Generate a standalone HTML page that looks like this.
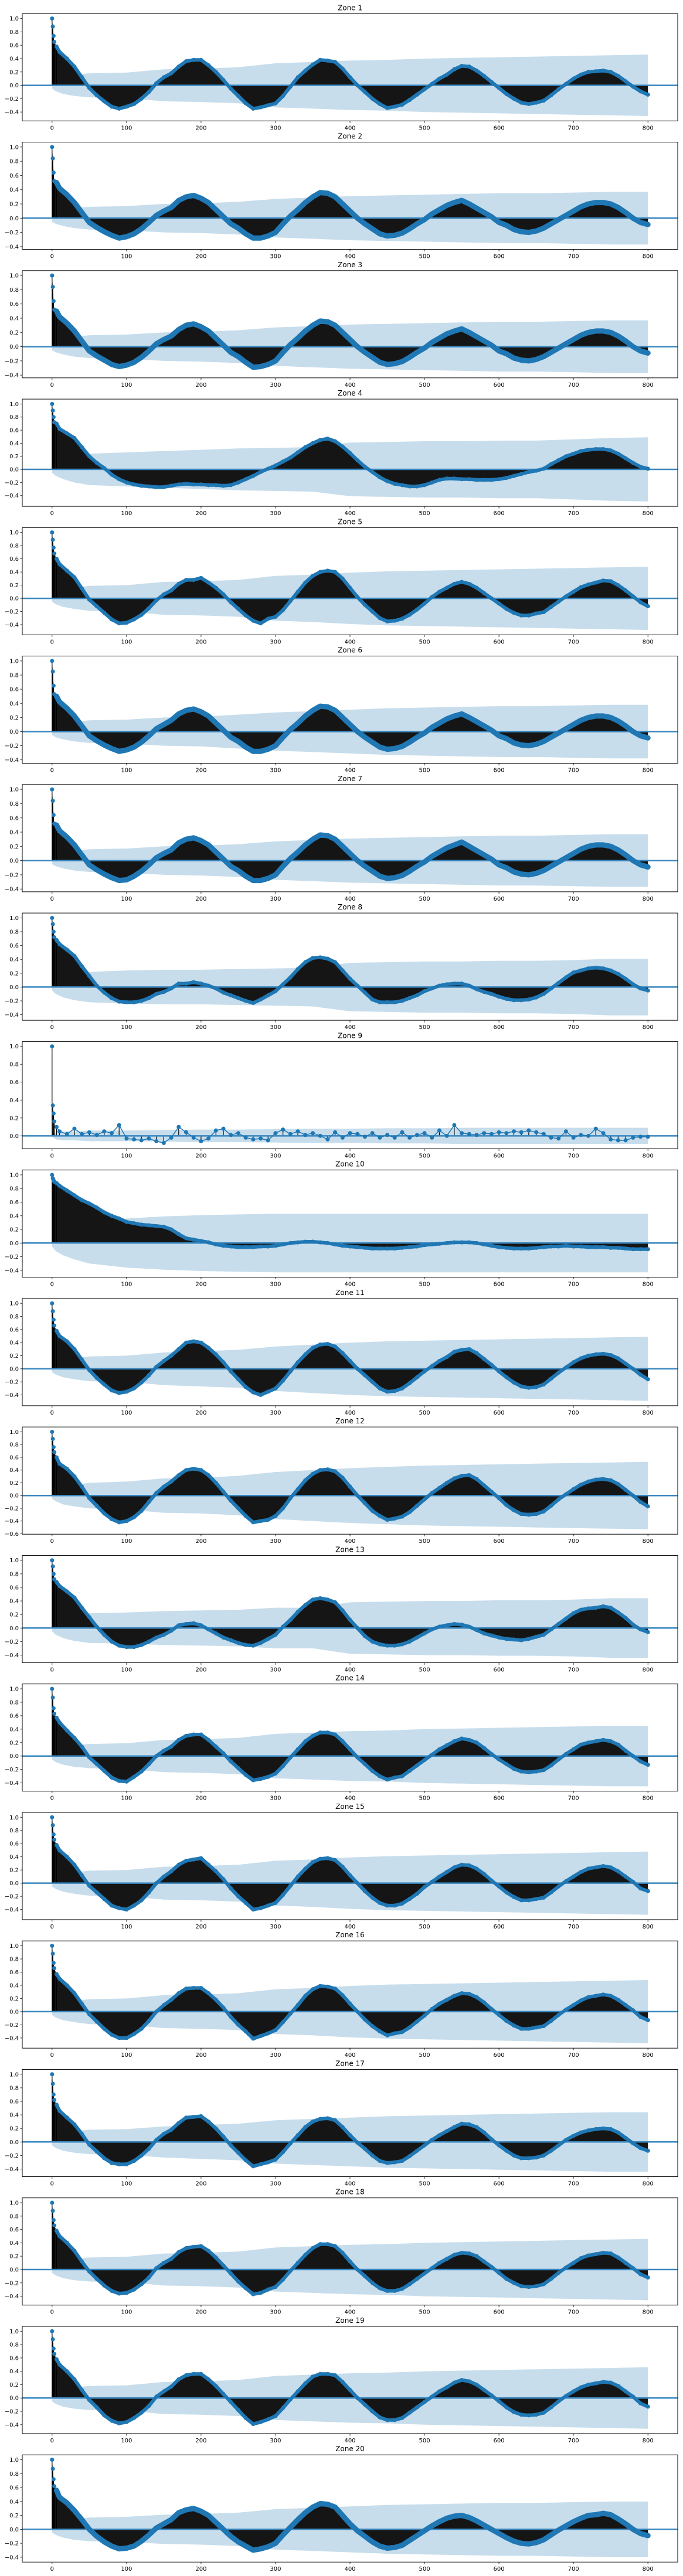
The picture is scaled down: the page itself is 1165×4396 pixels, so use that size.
<!DOCTYPE html>
<html><head><meta charset="utf-8"><style>
html,body{margin:0;padding:0;background:#fff;}
svg{display:block;}
text{font-family:"DejaVu Sans","Liberation Sans",sans-serif;}
</style></head>
<body>
<svg id="chart" xmlns="http://www.w3.org/2000/svg" width="1165" height="4396" viewBox="0 0 1165 4396"></svg>
<script>
const lags=[0,1,2,3,6,10,20,30,40,50,60,70,80,90,100,110,120,130,140,150,160,170,180,190,200,210,220,230,240,250,260,270,280,290,300,310,320,330,340,350,360,370,380,390,400,410,420,430,440,450,460,470,480,490,500,510,520,530,540,550,560,570,580,590,600,610,620,630,640,650,660,670,680,690,700,710,720,730,740,750,760,770,780,790,800];
const confLags=[0,5,15,30,50,100,150,200,250,300,350,400,450,500,550,600,650,700,750,800];
const zoneNames=["Zone 1","Zone 2","Zone 3","Zone 4","Zone 5","Zone 6","Zone 7","Zone 8","Zone 9","Zone 10","Zone 11","Zone 12","Zone 13","Zone 14","Zone 15","Zone 16","Zone 17","Zone 18","Zone 19","Zone 20"];
const xTicks=[0,100,200,300,400,500,600,700,800];

const acf1=[1,0.88,0.74,0.65,0.58,0.50,0.40,0.28,0.12,-0.04,-0.15,-0.24,-0.32,-0.35,-0.32,-0.28,-0.20,-0.10,0.03,0.12,0.18,0.28,0.36,0.38,0.38,0.30,0.20,0.08,-0.05,-0.16,-0.27,-0.35,-0.33,-0.30,-0.27,-0.16,-0.02,0.12,0.22,0.31,0.38,0.37,0.35,0.25,0.12,0.0,-0.10,-0.20,-0.28,-0.34,-0.32,-0.29,-0.22,-0.14,-0.06,0.02,0.10,0.16,0.24,0.29,0.28,0.22,0.14,0.05,-0.04,-0.13,-0.20,-0.26,-0.28,-0.26,-0.23,-0.15,-0.06,0.02,0.10,0.16,0.20,0.21,0.22,0.20,0.14,0.06,-0.02,-0.09,-0.14];
const acf2=[1,0.84,0.64,0.52,0.50,0.42,0.33,0.22,0.08,-0.06,-0.13,-0.19,-0.24,-0.28,-0.26,-0.22,-0.15,-0.06,0.04,0.10,0.15,0.25,0.30,0.32,0.28,0.22,0.12,0.02,-0.08,-0.14,-0.22,-0.28,-0.28,-0.25,-0.20,-0.08,0.03,0.12,0.22,0.30,0.36,0.35,0.30,0.20,0.10,0.0,-0.08,-0.15,-0.22,-0.25,-0.24,-0.21,-0.15,-0.08,-0.02,0.06,0.12,0.18,0.22,0.25,0.20,0.14,0.08,0.02,-0.06,-0.10,-0.16,-0.19,-0.20,-0.18,-0.14,-0.08,-0.02,0.04,0.10,0.16,0.20,0.22,0.22,0.20,0.15,0.08,0.0,-0.06,-0.09];
const acf3=[1,0.84,0.64,0.52,0.50,0.42,0.33,0.22,0.08,-0.06,-0.13,-0.19,-0.25,-0.28,-0.26,-0.22,-0.15,-0.06,0.04,0.10,0.15,0.24,0.30,0.32,0.28,0.22,0.12,0.02,-0.08,-0.14,-0.22,-0.29,-0.28,-0.25,-0.20,-0.08,0.03,0.12,0.22,0.30,0.36,0.35,0.30,0.20,0.10,0.0,-0.08,-0.15,-0.22,-0.25,-0.24,-0.21,-0.15,-0.08,-0.02,0.06,0.12,0.18,0.22,0.25,0.20,0.14,0.08,0.02,-0.06,-0.10,-0.16,-0.19,-0.20,-0.18,-0.14,-0.08,-0.02,0.04,0.10,0.16,0.20,0.22,0.22,0.20,0.15,0.08,0.0,-0.06,-0.09];
const acf4=[1,0.90,0.80,0.72,0.70,0.62,0.55,0.48,0.34,0.20,0.10,0.02,-0.08,-0.15,-0.20,-0.23,-0.25,-0.26,-0.27,-0.27,-0.25,-0.23,-0.22,-0.23,-0.23,-0.24,-0.24,-0.25,-0.24,-0.20,-0.15,-0.10,-0.04,0.01,0.06,0.12,0.18,0.26,0.34,0.40,0.45,0.47,0.43,0.35,0.25,0.14,0.04,-0.04,-0.12,-0.18,-0.22,-0.24,-0.26,-0.26,-0.24,-0.20,-0.16,-0.14,-0.14,-0.15,-0.15,-0.16,-0.16,-0.16,-0.15,-0.13,-0.10,-0.07,-0.04,-0.02,0.01,0.08,0.14,0.20,0.24,0.28,0.30,0.31,0.31,0.29,0.24,0.17,0.10,0.04,0.01];
const acf5=[1,0.89,0.77,0.68,0.60,0.52,0.42,0.32,0.15,-0.02,-0.12,-0.22,-0.32,-0.38,-0.37,-0.32,-0.25,-0.15,-0.03,0.06,0.12,0.22,0.28,0.28,0.31,0.24,0.16,0.06,-0.06,-0.16,-0.26,-0.34,-0.38,-0.31,-0.28,-0.18,-0.04,0.10,0.24,0.34,0.40,0.42,0.40,0.30,0.16,0.02,-0.10,-0.20,-0.30,-0.35,-0.34,-0.31,-0.25,-0.17,-0.08,0.02,0.10,0.16,0.22,0.25,0.22,0.16,0.08,0.0,-0.08,-0.16,-0.22,-0.26,-0.26,-0.23,-0.21,-0.13,-0.05,0.03,0.10,0.17,0.21,0.24,0.27,0.26,0.20,0.12,0.03,-0.06,-0.12];
const acf6=[1,0.85,0.65,0.53,0.50,0.42,0.33,0.22,0.08,-0.06,-0.13,-0.19,-0.24,-0.28,-0.26,-0.22,-0.15,-0.06,0.04,0.10,0.16,0.25,0.30,0.32,0.28,0.22,0.12,0.02,-0.08,-0.14,-0.22,-0.28,-0.28,-0.25,-0.20,-0.08,0.03,0.12,0.22,0.30,0.36,0.35,0.30,0.20,0.10,0.0,-0.08,-0.15,-0.22,-0.25,-0.24,-0.21,-0.15,-0.08,-0.02,0.06,0.12,0.18,0.22,0.25,0.20,0.14,0.08,0.02,-0.06,-0.10,-0.16,-0.19,-0.20,-0.18,-0.14,-0.08,-0.02,0.04,0.10,0.16,0.20,0.22,0.22,0.20,0.15,0.08,0.0,-0.06,-0.09];
const acf7=[1,0.84,0.64,0.52,0.50,0.42,0.33,0.22,0.08,-0.06,-0.13,-0.19,-0.24,-0.28,-0.27,-0.22,-0.15,-0.06,0.04,0.10,0.15,0.25,0.30,0.32,0.28,0.22,0.12,0.02,-0.08,-0.14,-0.22,-0.28,-0.28,-0.25,-0.20,-0.08,0.03,0.12,0.22,0.30,0.36,0.35,0.30,0.20,0.10,0.0,-0.08,-0.15,-0.22,-0.25,-0.24,-0.21,-0.15,-0.08,-0.02,0.06,0.12,0.18,0.22,0.26,0.20,0.14,0.08,0.02,-0.06,-0.10,-0.16,-0.19,-0.20,-0.18,-0.14,-0.08,-0.02,0.04,0.10,0.16,0.20,0.22,0.22,0.20,0.15,0.08,0.0,-0.06,-0.09];
const acf8=[1,0.91,0.80,0.72,0.68,0.62,0.54,0.45,0.30,0.16,0.02,-0.08,-0.16,-0.21,-0.22,-0.22,-0.20,-0.16,-0.10,-0.07,-0.02,0.05,0.05,0.07,0.05,0.02,-0.02,-0.08,-0.12,-0.16,-0.20,-0.23,-0.18,-0.12,-0.06,0.04,0.14,0.26,0.36,0.42,0.43,0.41,0.36,0.24,0.12,0.02,-0.08,-0.18,-0.22,-0.22,-0.22,-0.20,-0.16,-0.12,-0.06,-0.02,0.02,0.04,0.05,0.05,0.02,-0.03,-0.07,-0.10,-0.14,-0.17,-0.19,-0.19,-0.18,-0.15,-0.10,-0.02,0.06,0.14,0.21,0.24,0.27,0.28,0.27,0.24,0.19,0.12,0.04,-0.02,-0.05];
const acf9=[1,0.34,0.25,0.16,0.10,0.05,0.02,0.08,0.02,0.04,0.01,0.05,0.03,0.12,-0.03,-0.04,-0.05,-0.03,-0.06,-0.08,-0.02,0.10,0.04,-0.02,-0.06,-0.03,0.06,0.08,0.01,0.03,-0.02,-0.04,-0.03,-0.05,0.03,0.07,0.02,0.05,0.01,0.03,0.0,-0.04,0.04,-0.02,0.03,0.02,-0.01,0.03,-0.02,0.01,-0.02,0.04,-0.02,0.01,0.03,-0.02,0.06,0.0,0.12,0.03,0.02,0.01,0.03,0.02,0.04,0.03,0.05,0.04,0.06,0.04,0.02,-0.02,-0.03,0.05,-0.02,0.01,0.0,0.08,0.03,-0.04,-0.05,-0.05,-0.02,-0.01,-0.01];
const acf10=[1,0.95,0.92,0.90,0.88,0.84,0.77,0.70,0.63,0.58,0.52,0.45,0.40,0.36,0.31,0.29,0.27,0.26,0.25,0.24,0.20,0.13,0.07,0.05,0.03,0.01,-0.02,-0.04,-0.05,-0.06,-0.06,-0.06,-0.05,-0.05,-0.04,-0.02,0.0,0.01,0.02,0.02,0.01,0.0,-0.02,-0.04,-0.05,-0.06,-0.07,-0.08,-0.08,-0.08,-0.08,-0.07,-0.06,-0.05,-0.03,-0.02,-0.01,0.0,0.01,0.01,0.01,0.0,-0.02,-0.04,-0.06,-0.07,-0.08,-0.08,-0.08,-0.07,-0.06,-0.05,-0.05,-0.04,-0.05,-0.05,-0.06,-0.06,-0.06,-0.07,-0.07,-0.08,-0.09,-0.09,-0.09];
const acf11=[1,0.88,0.75,0.66,0.58,0.50,0.42,0.30,0.14,-0.02,-0.14,-0.24,-0.33,-0.37,-0.35,-0.30,-0.21,-0.10,0.03,0.12,0.20,0.30,0.40,0.42,0.40,0.32,0.22,0.10,-0.04,-0.16,-0.28,-0.36,-0.40,-0.35,-0.30,-0.18,-0.04,0.10,0.22,0.32,0.37,0.38,0.34,0.24,0.12,0.0,-0.10,-0.20,-0.30,-0.35,-0.34,-0.30,-0.22,-0.13,-0.04,0.04,0.12,0.18,0.26,0.29,0.30,0.24,0.15,0.06,-0.04,-0.13,-0.21,-0.27,-0.29,-0.28,-0.24,-0.15,-0.06,0.02,0.10,0.16,0.20,0.22,0.23,0.21,0.16,0.08,0.0,-0.09,-0.16];
const acf12=[1,0.89,0.76,0.68,0.60,0.50,0.42,0.30,0.14,-0.04,-0.16,-0.28,-0.37,-0.42,-0.40,-0.34,-0.24,-0.10,0.04,0.14,0.22,0.32,0.40,0.42,0.40,0.32,0.20,0.06,-0.08,-0.20,-0.32,-0.42,-0.40,-0.38,-0.32,-0.20,-0.04,0.10,0.24,0.34,0.40,0.41,0.38,0.28,0.14,0.0,-0.12,-0.24,-0.32,-0.38,-0.36,-0.33,-0.26,-0.16,-0.06,0.04,0.12,0.20,0.27,0.31,0.32,0.26,0.16,0.06,-0.04,-0.15,-0.23,-0.29,-0.30,-0.29,-0.25,-0.16,-0.06,0.02,0.10,0.17,0.22,0.25,0.26,0.24,0.18,0.09,0.0,-0.10,-0.17];
const acf13=[1,0.91,0.80,0.72,0.68,0.62,0.54,0.45,0.30,0.16,0.02,-0.10,-0.20,-0.26,-0.28,-0.28,-0.25,-0.20,-0.14,-0.10,-0.04,0.04,0.06,0.07,0.04,-0.02,-0.08,-0.14,-0.18,-0.22,-0.25,-0.26,-0.22,-0.16,-0.10,0.02,0.12,0.24,0.34,0.42,0.44,0.42,0.38,0.26,0.12,0.0,-0.12,-0.20,-0.24,-0.26,-0.26,-0.24,-0.20,-0.14,-0.08,-0.02,0.02,0.04,0.06,0.05,0.02,-0.03,-0.08,-0.11,-0.14,-0.16,-0.17,-0.18,-0.16,-0.13,-0.10,-0.02,0.06,0.14,0.22,0.27,0.29,0.30,0.32,0.30,0.23,0.15,0.05,-0.02,-0.06];
const acf14=[1,0.87,0.71,0.63,0.57,0.50,0.38,0.27,0.14,-0.02,-0.12,-0.22,-0.32,-0.37,-0.38,-0.31,-0.23,-0.12,0.0,0.08,0.14,0.24,0.30,0.32,0.32,0.24,0.14,0.04,-0.08,-0.18,-0.28,-0.36,-0.34,-0.31,-0.26,-0.15,-0.02,0.10,0.22,0.30,0.35,0.35,0.32,0.22,0.10,-0.02,-0.12,-0.22,-0.30,-0.35,-0.32,-0.30,-0.22,-0.14,-0.06,0.02,0.10,0.16,0.22,0.26,0.24,0.20,0.12,0.03,-0.05,-0.12,-0.19,-0.23,-0.24,-0.23,-0.21,-0.14,-0.05,0.03,0.10,0.17,0.20,0.22,0.24,0.22,0.17,0.08,0.0,-0.08,-0.13];
const acf15=[1,0.88,0.74,0.66,0.58,0.50,0.40,0.28,0.12,-0.04,-0.14,-0.24,-0.34,-0.38,-0.40,-0.34,-0.26,-0.14,0.0,0.10,0.18,0.28,0.34,0.36,0.38,0.28,0.18,0.06,-0.08,-0.20,-0.30,-0.40,-0.38,-0.34,-0.30,-0.18,-0.04,0.10,0.22,0.32,0.37,0.38,0.35,0.25,0.12,0.0,-0.12,-0.22,-0.30,-0.34,-0.34,-0.31,-0.24,-0.16,-0.06,0.02,0.10,0.17,0.24,0.28,0.27,0.22,0.14,0.04,-0.05,-0.14,-0.21,-0.26,-0.26,-0.24,-0.22,-0.14,-0.05,0.03,0.10,0.17,0.22,0.24,0.26,0.24,0.18,0.10,0.02,-0.08,-0.12];
const acf16=[1,0.88,0.74,0.66,0.57,0.50,0.40,0.28,0.12,-0.04,-0.15,-0.26,-0.35,-0.40,-0.40,-0.34,-0.26,-0.14,0.0,0.10,0.18,0.28,0.35,0.36,0.36,0.28,0.18,0.06,-0.08,-0.20,-0.30,-0.41,-0.37,-0.33,-0.28,-0.16,-0.03,0.10,0.24,0.34,0.39,0.38,0.35,0.25,0.12,0.0,-0.12,-0.22,-0.30,-0.36,-0.33,-0.31,-0.24,-0.15,-0.06,0.04,0.12,0.18,0.24,0.28,0.27,0.22,0.14,0.04,-0.05,-0.14,-0.21,-0.26,-0.26,-0.24,-0.22,-0.14,-0.05,0.03,0.10,0.17,0.22,0.24,0.26,0.24,0.18,0.10,0.02,-0.08,-0.13];
const acf17=[1,0.86,0.70,0.62,0.55,0.46,0.36,0.26,0.12,-0.04,-0.14,-0.24,-0.31,-0.33,-0.33,-0.28,-0.20,-0.10,0.03,0.12,0.18,0.28,0.36,0.37,0.38,0.30,0.20,0.08,-0.05,-0.16,-0.27,-0.36,-0.33,-0.30,-0.26,-0.15,-0.02,0.10,0.22,0.30,0.34,0.35,0.32,0.22,0.10,-0.01,-0.10,-0.20,-0.28,-0.31,-0.30,-0.28,-0.21,-0.13,-0.05,0.03,0.10,0.16,0.22,0.27,0.26,0.22,0.14,0.04,-0.05,-0.13,-0.20,-0.24,-0.24,-0.23,-0.20,-0.13,-0.05,0.03,0.09,0.14,0.17,0.19,0.20,0.19,0.14,0.06,-0.02,-0.09,-0.13];
const acf18=[1,0.88,0.74,0.66,0.58,0.50,0.40,0.28,0.12,-0.03,-0.14,-0.24,-0.32,-0.36,-0.35,-0.30,-0.22,-0.12,0.02,0.10,0.16,0.26,0.32,0.34,0.35,0.28,0.18,0.06,-0.06,-0.18,-0.28,-0.37,-0.35,-0.30,-0.26,-0.15,-0.02,0.10,0.22,0.32,0.38,0.38,0.35,0.25,0.12,0.0,-0.10,-0.20,-0.28,-0.32,-0.32,-0.29,-0.22,-0.14,-0.06,0.02,0.10,0.16,0.22,0.25,0.24,0.20,0.12,0.04,-0.05,-0.14,-0.20,-0.25,-0.26,-0.25,-0.22,-0.14,-0.05,0.03,0.10,0.17,0.21,0.23,0.25,0.24,0.18,0.10,0.02,-0.07,-0.12];
const acf19=[1,0.88,0.74,0.66,0.58,0.50,0.40,0.28,0.12,-0.03,-0.14,-0.26,-0.34,-0.38,-0.36,-0.30,-0.22,-0.12,0.02,0.10,0.17,0.28,0.34,0.36,0.36,0.28,0.18,0.06,-0.06,-0.18,-0.30,-0.39,-0.36,-0.32,-0.27,-0.15,-0.02,0.10,0.22,0.32,0.36,0.36,0.34,0.24,0.12,0.0,-0.10,-0.20,-0.29,-0.33,-0.33,-0.30,-0.22,-0.14,-0.06,0.02,0.10,0.16,0.23,0.27,0.25,0.20,0.12,0.04,-0.05,-0.14,-0.21,-0.25,-0.26,-0.25,-0.22,-0.14,-0.05,0.03,0.10,0.16,0.20,0.22,0.24,0.23,0.18,0.10,0.02,-0.08,-0.13];
const acf20=[1,0.87,0.72,0.62,0.56,0.46,0.38,0.27,0.14,0.0,-0.10,-0.18,-0.24,-0.28,-0.27,-0.24,-0.17,-0.08,0.02,0.08,0.14,0.24,0.28,0.30,0.26,0.20,0.10,0.0,-0.10,-0.18,-0.24,-0.30,-0.28,-0.25,-0.20,-0.08,0.03,0.14,0.24,0.32,0.37,0.36,0.32,0.20,0.08,-0.02,-0.10,-0.18,-0.24,-0.27,-0.26,-0.23,-0.16,-0.09,-0.02,0.05,0.11,0.16,0.19,0.20,0.17,0.12,0.06,0.0,-0.06,-0.12,-0.17,-0.20,-0.21,-0.19,-0.15,-0.08,-0.01,0.05,0.11,0.16,0.20,0.21,0.23,0.21,0.15,0.08,0.0,-0.06,-0.09];

const conf1=[0.05,0.09,0.13,0.16,0.18,0.19,0.24,0.25,0.27,0.33,0.35,0.37,0.38,0.40,0.41,0.42,0.43,0.44,0.45,0.46];
const conf2=[0.05,0.08,0.11,0.14,0.16,0.17,0.20,0.21,0.23,0.27,0.29,0.31,0.32,0.33,0.34,0.35,0.35,0.36,0.37,0.37];
const conf3=[0.05,0.08,0.11,0.14,0.16,0.17,0.20,0.21,0.23,0.27,0.29,0.31,0.32,0.33,0.34,0.35,0.35,0.36,0.37,0.37];
const conf4=[0.05,0.10,0.15,0.20,0.24,0.26,0.28,0.30,0.32,0.33,0.34,0.41,0.42,0.43,0.43,0.44,0.44,0.46,0.48,0.49];
const conf5=[0.05,0.09,0.13,0.16,0.19,0.20,0.25,0.26,0.28,0.34,0.36,0.39,0.41,0.42,0.43,0.44,0.45,0.46,0.47,0.48];
const conf6=[0.05,0.08,0.11,0.14,0.16,0.17,0.20,0.21,0.24,0.27,0.29,0.31,0.33,0.34,0.35,0.36,0.36,0.37,0.38,0.38];
const conf7=[0.05,0.08,0.11,0.14,0.16,0.17,0.20,0.21,0.23,0.27,0.29,0.31,0.32,0.33,0.34,0.35,0.35,0.36,0.37,0.37];
const conf8=[0.05,0.10,0.15,0.19,0.22,0.24,0.25,0.25,0.26,0.27,0.28,0.35,0.36,0.37,0.37,0.38,0.38,0.39,0.41,0.41];
const conf9=[0.01,0.04,0.05,0.05,0.06,0.06,0.065,0.07,0.07,0.075,0.08,0.08,0.085,0.085,0.09,0.09,0.09,0.09,0.09,0.09];
const conf10=[0.05,0.12,0.18,0.24,0.30,0.36,0.39,0.41,0.42,0.43,0.43,0.43,0.43,0.43,0.43,0.43,0.43,0.43,0.43,0.43];
const conf11=[0.05,0.09,0.13,0.16,0.19,0.20,0.25,0.27,0.29,0.34,0.37,0.40,0.42,0.43,0.44,0.45,0.46,0.47,0.48,0.49];
const conf12=[0.05,0.09,0.14,0.17,0.20,0.22,0.27,0.28,0.31,0.37,0.40,0.43,0.45,0.47,0.48,0.49,0.50,0.51,0.52,0.53];
const conf13=[0.05,0.10,0.15,0.19,0.22,0.23,0.25,0.26,0.27,0.30,0.30,0.38,0.39,0.40,0.40,0.41,0.41,0.42,0.44,0.44];
const conf14=[0.05,0.09,0.13,0.16,0.18,0.19,0.24,0.25,0.27,0.33,0.35,0.37,0.38,0.40,0.41,0.42,0.43,0.44,0.45,0.45];
const conf15=[0.05,0.09,0.13,0.16,0.19,0.20,0.25,0.26,0.28,0.34,0.36,0.39,0.41,0.42,0.43,0.44,0.45,0.46,0.47,0.48];
const conf16=[0.05,0.09,0.13,0.16,0.19,0.20,0.25,0.26,0.28,0.34,0.36,0.39,0.41,0.42,0.43,0.44,0.45,0.46,0.47,0.48];
const conf17=[0.05,0.09,0.13,0.16,0.18,0.19,0.23,0.25,0.27,0.32,0.34,0.36,0.38,0.39,0.40,0.41,0.42,0.43,0.44,0.44];
const conf18=[0.05,0.09,0.13,0.16,0.18,0.19,0.24,0.25,0.27,0.33,0.35,0.37,0.38,0.40,0.41,0.42,0.43,0.44,0.45,0.46];
const conf19=[0.05,0.09,0.13,0.16,0.18,0.19,0.24,0.25,0.27,0.33,0.35,0.37,0.38,0.40,0.41,0.42,0.43,0.44,0.45,0.46];
const conf20=[0.05,0.08,0.12,0.15,0.17,0.18,0.21,0.22,0.24,0.29,0.31,0.33,0.35,0.36,0.37,0.38,0.38,0.39,0.40,0.40];

const acfSeries=[acf1,acf2,acf3,acf4,acf5,acf6,acf7,acf8,acf9,acf10,acf11,acf12,acf13,acf14,acf15,acf16,acf17,acf18,acf19,acf20];
const confSeries=[conf1,conf2,conf3,conf4,conf5,conf6,conf7,conf8,conf9,conf10,conf11,conf12,conf13,conf14,conf15,conf16,conf17,conf18,conf19,conf20];

// styling (not data)
const lineWidths=[6,9,9,6,6,9,9,6,1.5,6,6,6,6,6,6,6,6,6,6,9];
const NS="http://www.w3.org/2000/svg";
const svg=document.getElementById('chart');
const AX_L=38, AX_R=1156, AX_H=183, TOP0=23.3, STEP=219.26;
const XMIN=-40, XMAX=840;
function xScale(v){return AX_L+(v-XMIN)/(XMAX-XMIN)*(AX_R-AX_L);}
function mk(tag,attrs,parent){const e=document.createElementNS(NS,tag);for(const k in attrs)e.setAttribute(k,attrs[k]);(parent||svg).appendChild(e);return e;}
function fmt(v){const s=Math.abs(v)<1e-9?"0.0":v.toFixed(1);return s.replace('-','\u2212');}

for(let z=0;z<acfSeries.length;z++){
  const vals=acfSeries[z], conf=confSeries[z];
  const top=TOP0+z*STEP, bot=top+AX_H;
  let lo=Math.min(...vals,...conf.map(c=>-c)), hi=Math.max(1,...vals,...conf);
  const rng=hi-lo; const ymin=lo-0.05*rng, ymax=hi+0.05*rng;
  const yScale=v=>bot-(v-ymin)/(ymax-ymin)*AX_H;
  const g=mk('g',{});
  
  
  const t=mk('text',{x:(AX_L+AX_R)/2,y:top-6,'text-anchor':'middle','font-size':'12',fill:'#000'},g);
  t.textContent=zoneNames[z];
  
  
  let pts=[];
  for(let i=0;i<confLags.length;i++)pts.push(xScale(confLags[i]).toFixed(1)+','+yScale(conf[i]).toFixed(1));
  for(let i=confLags.length-1;i>=0;i--)pts.push(xScale(confLags[i]).toFixed(1)+','+yScale(-conf[i]).toFixed(1));
  const band=mk('polygon',{points:pts.join(' '),fill:'#1f77b4','fill-opacity':'0.25'},g);
  
  
  const y0=yScale(0);
  let ap=[xScale(lags[0]).toFixed(1)+','+y0.toFixed(1)];
  for(let i=0;i<lags.length;i++)ap.push(xScale(lags[i]).toFixed(1)+','+yScale(vals[i]).toFixed(1));
  ap.push(xScale(lags[lags.length-1]).toFixed(1)+','+y0.toFixed(1));
  if(z!==8){
    const area=mk('polygon',{points:ap.join(' '),fill:'#151515'},g);
    
    
  }
  for(let i=0;i<lags.length;i++){
    if(z===8 || i<5){
      const s=mk('line',{x1:xScale(lags[i]),x2:xScale(lags[i]),y1:y0,y2:yScale(vals[i]),stroke:'#000','stroke-width':'1.2'},g);
      
      
    }
  }
  const zl=mk('line',{x1:AX_L,x2:AX_R,y1:y0,y2:y0,stroke:'#3a87bf','stroke-width':'2.5'},g);
  
  
  let lp=[];
  for(let i=4;i<lags.length;i++)lp.push(xScale(lags[i]).toFixed(1)+','+yScale(vals[i]).toFixed(1));
  const pl=mk('polyline',{points:lp.join(' '),fill:'none',stroke:'#1f77b4','stroke-width':lineWidths[z],'stroke-linejoin':'round','stroke-linecap':'round'},g);
  
  
  for(let i=0;i<lags.length;i++){
    const c=mk('circle',{cx:xScale(lags[i]),cy:yScale(vals[i]),r:3.5,fill:'#1f77b4'},g);
    
    
  }
  const fr=mk('rect',{x:AX_L,y:top,width:AX_R-AX_L,height:AX_H,fill:'none',stroke:'#000','stroke-width':'1'},g);
  
  
  for(let v=Math.ceil((ymin+1e-9)/0.2)*0.2; v<=ymax+1e-9; v+=0.2){
    const yy=yScale(v);
    mk('line',{x1:AX_L-3.5,x2:AX_L,y1:yy,y2:yy,stroke:'#000','stroke-width':'0.8'},g);
    const tl=mk('text',{x:AX_L-6,y:yy+3.5,'text-anchor':'end','font-size':'10',fill:'#000'},g);
    tl.textContent=fmt(v);
    
    
  }
  for(const xv of xTicks){
    const xx=xScale(xv);
    mk('line',{x1:xx,x2:xx,y1:bot,y2:bot+3.5,stroke:'#000','stroke-width':'0.8'},g);
    const tl=mk('text',{x:xx,y:bot+15,'text-anchor':'middle','font-size':'10',fill:'#000'},g);
    tl.textContent=String(xv);
    
    
  }
}
</script>
</body></html>
